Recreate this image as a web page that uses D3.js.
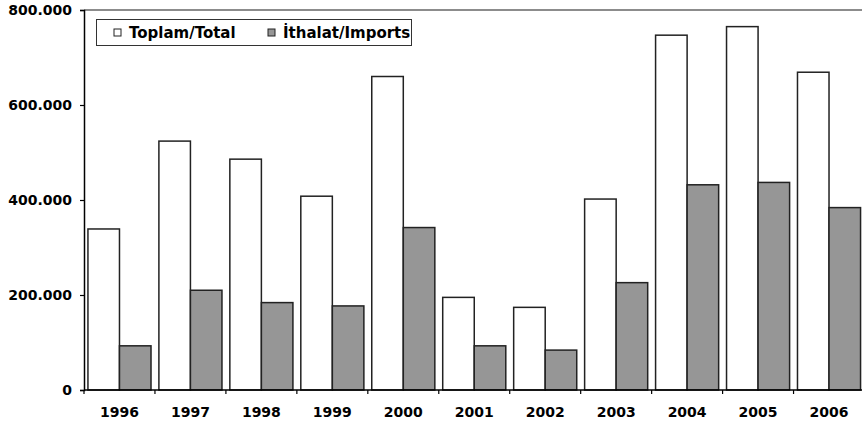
<!DOCTYPE html>
<html>
<head>
<meta charset="utf-8">
<script src="https://cdn.jsdelivr.net/npm/d3@7"></script>
<style>
  body { margin: 0; background: #fff; }
  svg { display: block; font-family: "DejaVu Sans", Verdana, sans-serif; font-weight: bold; }
</style>
</head>
<body>
<svg id="chart" width="862" height="428"></svg>
<script>
/* eslint-env browser */
/* global d3: false */

const years = ['1996', '1997', '1998', '1999', '2000', '2001', '2002', '2003', '2004', '2005', '2006'];
const totals = [339000, 524000, 486000, 408000, 660000, 195000, 174000, 402000, 747000, 765000, 669000];
const imports = [93000, 210000, 184000, 177000, 342000, 93000, 84000, 226000, 432000, 437000, 384000];
const seriesNames = ['Toplam/Total', 'İthalat/Imports'];
const seriesFills = ['#ffffff', '#969696'];
const yTicks = [0, 200000, 400000, 600000, 800000];

const svg = d3.select('#chart');
const plotLeft = 84;
const plotRight = 864.5;
const plotTop = 10;
const plotBottom = 390;

const x = d3.scaleBand().domain(years).range([plotLeft, plotRight]).padding(0);
const x1 = d3.scaleBand().domain([0, 1]).range([0, x.bandwidth()])
  .paddingInner(0).paddingOuter(0.125);
const y = d3.scaleLinear().domain([0, 800000]).range([plotBottom, plotTop]);

const fmt = v => (v === 0 ? '0' : d3.format(',.0f')(v).replace(/,/g, '.'));

// plot area top border
svg.append('line')
  .attr('x1', plotLeft).attr('x2', 862)
  .attr('y1', plotTop).attr('y2', plotTop)
  .attr('stroke', '#666').attr('stroke-width', 1.5);

// bars
const rows = years.map((yr, i) => ({ year: yr, values: [totals[i], imports[i]] }));
const groups = svg.append('g').selectAll('g')
  .data(rows)
  .enter()
  .append('g')
  .attr('transform', d => `translate(${x(d.year)},0)`);

groups.selectAll('rect')
  .data(d => d.values.map((v, k) => ({ k, v })))
  .enter()
  .append('rect')
  .attr('x', d => x1(d.k))
  .attr('width', x1.bandwidth())
  .attr('y', d => y(d.v))
  .attr('height', d => y(0) - y(d.v))
  .attr('fill', d => seriesFills[d.k])
  .attr('stroke', '#222')
  .attr('stroke-width', 1.5);

// y axis
const yAxis = svg.append('g')
  .attr('transform', `translate(${plotLeft},0)`)
  .call(d3.axisLeft(y).tickValues(yTicks).tickFormat(fmt).tickSize(4).tickPadding(8));
yAxis.select('.domain').attr('stroke', '#000').attr('stroke-width', 1.5);
yAxis.selectAll('.tick line').attr('stroke', '#000').attr('stroke-width', 1.2);
yAxis.selectAll('text')
  .attr('font-family', '"DejaVu Sans", Verdana, sans-serif')
  .attr('font-weight', 'bold')
  .attr('font-size', '14px')
  .attr('fill', '#000');

// x axis baseline and ticks between categories
svg.append('line')
  .attr('x1', plotLeft).attr('x2', 862)
  .attr('y1', plotBottom).attr('y2', plotBottom)
  .attr('stroke', '#000').attr('stroke-width', 1.5);

svg.append('g').selectAll('line')
  .data(years)
  .enter()
  .append('line')
  .attr('x1', d => x(d)).attr('x2', d => x(d))
  .attr('y1', plotBottom).attr('y2', plotBottom + 4)
  .attr('stroke', '#000').attr('stroke-width', 1.2);

svg.append('g').selectAll('text')
  .data(years)
  .enter()
  .append('text')
  .attr('x', d => x(d) + x.bandwidth() / 2)
  .attr('y', 417)
  .attr('text-anchor', 'middle')
  .attr('font-size', '14px')
  .attr('fill', '#000')
  .text(d => d);

// legend
const legend = svg.append('g');
legend.append('rect')
  .attr('x', 96.5).attr('y', 19.5)
  .attr('width', 315).attr('height', 26)
  .attr('fill', '#fff')
  .attr('stroke', '#333').attr('stroke-width', 1);

const legendX = [114, 268];
seriesNames.forEach((name, k) => {
  legend.append('rect')
    .attr('x', legendX[k]).attr('y', 29)
    .attr('width', 7).attr('height', 7)
    .attr('fill', seriesFills[k])
    .attr('stroke', '#222').attr('stroke-width', 1);
  legend.append('text')
    .attr('x', legendX[k] + 15)
    .attr('y', 38)
    .attr('font-size', '15px')
    .attr('fill', '#000')
    .text(name);
});
</script>
</body>
</html>
